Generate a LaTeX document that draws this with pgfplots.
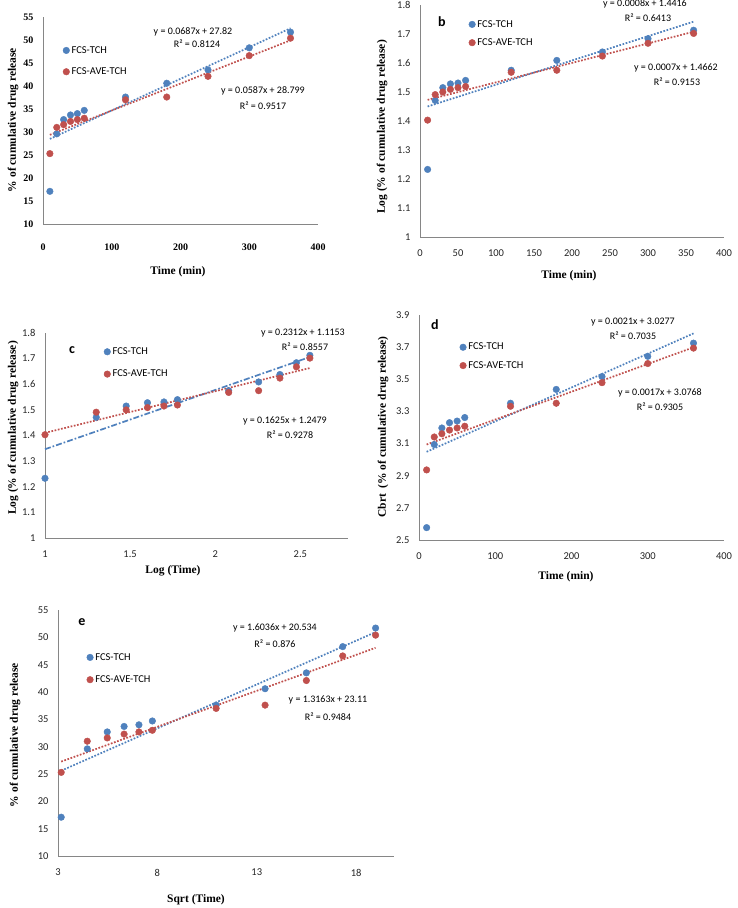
\documentclass[border=0pt]{standalone}
\usepackage{pgfplots}
\pgfplotsset{compat=1.18}
\usepackage{fontspec}
\setmainfont{Liberation Serif}
\newfontfamily\calfont{Carlito}
\definecolor{xblue}{HTML}{4F81BD}
\definecolor{xred}{HTML}{C0504D}
\definecolor{axgray}{HTML}{868686}
\pgfplotsset{
  base/.style={
    scale only axis, anchor=south west, clip=false,
    axis lines=left, axis line style={-, draw=axgray, line width=0.9pt},
    major tick length=0pt, enlargelimits=false,
    /pgf/number format/assume math mode=true,
    tick label style={font=\calfont\fontsize{10.5}{12}\selectfont, text=black!85},
    xticklabel style={yshift=-9.5pt},
    yticklabel style={xshift=-6pt},
    legend image code/.code={\draw[#1] plot coordinates {(0.12cm,0cm)};},
    legend style={draw=none, fill=none, inner sep=0pt, anchor=west,
      font=\calfont\fontsize{10.5}{12}\selectfont, cells={anchor=west}},
  },
  sb/.style={only marks, mark=*, mark size=3.3pt, mark options={draw=xblue, fill=xblue}},
  sr/.style={only marks, mark=*, mark size=3.3pt, mark options={draw=xred, fill=xred}},
  tb/.style={xblue, line width=1.7pt, dash pattern=on 1.7pt off 1.6pt, forget plot, no marks},
  tr/.style={xred, line width=1.7pt, dash pattern=on 1.7pt off 1.6pt, forget plot, no marks},
}
\newcommand{\lab}{\bfseries\fontsize{11.5}{13}\selectfont}
\newcommand{\eqf}{\calfont\fontsize{10}{12}\selectfont}
\begin{document}
\begin{tikzpicture}[x=1pt,y=1pt]
\path[use as bounding box, fill=white] (0,0) rectangle (738,-908);

% ---------- panel a ----------
\begin{axis}[base, at={(43pt,-224pt)}, width=275pt, height=207pt,
  xmin=0, xmax=400, ymin=10, ymax=55, xtick={0,100,...,400}, ytick={10,15,...,55},
  tick label style={font=\bfseries\fontsize{10}{12}\selectfont, text=black},
  xticklabel style={yshift=-7pt},
  legend style={at={(0.072,0.787)}, row sep=9pt}]
\addplot[sb] table {
10 17.1
20 29.6
30 32.7
40 33.7
50 34.0
60 34.7
120 37.6
180 40.6
240 43.5
300 48.3
360 51.7
};
\addlegendentry{FCS-TCH}
\addplot[sr] table {
10 25.3
20 31.0
30 31.6
40 32.3
50 32.7
60 33.0
120 37.0
180 37.6
240 42.1
300 46.6
360 50.4
};
\addlegendentry{FCS-AVE-TCH}
\addplot[tb] coordinates {(10,28.507) (360,52.552)};
\addplot[tr] coordinates {(10,29.386) (360,49.931)};
\end{axis}
\node[rotate=90, font=\lab] at (13,-120) {\% of cumulative drug release};
\node[font=\lab] at (178,-272) {Time (min)};
\node[font=\eqf] at (193,-32) {y = 0.0687x + 27.82};
\node[font=\eqf] at (197,-44) {R² = 0.8124};
\node[font=\eqf] at (263,-91) {y = 0.0587x + 28.799};
\node[font=\eqf] at (263,-106) {R² = 0.9517};

% ---------- panel b ----------
\begin{axis}[base, at={(420pt,-237pt)}, width=304pt, height=232pt,
  xmin=0, xmax=400, ymin=1, ymax=1.8, xtick={0,50,...,400}, ytick={1,1.1,...,1.8},
  yticklabel style={/pgf/number format/.cd, fixed, precision=1},
  legend style={at={(0.160,0.877)}, row sep=6pt}]
\addplot[sb] table {
10 1.233
20 1.471
30 1.515
40 1.528
50 1.531
60 1.540
120 1.575
180 1.609
240 1.638
300 1.684
360 1.713
};
\addlegendentry{FCS-TCH}
\addplot[sr] table {
10 1.403
20 1.491
30 1.500
40 1.509
50 1.515
60 1.519
120 1.568
180 1.575
240 1.624
300 1.668
360 1.702
};
\addlegendentry{FCS-AVE-TCH}
\addplot[tb] coordinates {(10,1.4500) (360,1.7426)};
\addplot[tr] coordinates {(10,1.4729) (360,1.7078)};
\end{axis}
\node[rotate=90, font=\lab] at (382,-127) {Log (\% of cumulative drug release)};
\node[font=\lab] at (569,-276) {Time (min)};
\node[font=\calfont\bfseries\fontsize{14}{16}\selectfont] at (442,-22) {b};
\node[font=\eqf] at (645,-4) {y = 0.0008x + 1.4416};
\node[font=\eqf] at (648,-18) {R² = 0.6413};
\node[font=\eqf] at (676,-68) {y = 0.0007x + 1.4662};
\node[font=\eqf] at (677,-82) {R² = 0.9153};

% ---------- panel c ----------
\begin{axis}[base, at={(45pt,-538pt)}, width=303pt, height=205pt,
  xmin=1, xmax=2.78, ymin=1, ymax=1.8, xtick={1,1.5,2,2.5}, ytick={1,1.1,...,1.8},
  yticklabel style={/pgf/number format/.cd, fixed, precision=1},
  xticklabel style={/pgf/number format/.cd, fixed, precision=1},
  legend style={at={(0.194,0.854)}, row sep=10pt}]
\addplot[sb] table {
1.000 1.233
1.301 1.471
1.477 1.515
1.602 1.528
1.699 1.531
1.778 1.540
2.079 1.575
2.255 1.609
2.380 1.638
2.477 1.684
2.556 1.713
};
\addlegendentry{FCS-TCH}
\addplot[sr] table {
1.000 1.403
1.301 1.491
1.477 1.500
1.602 1.509
1.699 1.515
1.778 1.519
2.079 1.568
2.255 1.575
2.380 1.624
2.477 1.668
2.556 1.702
};
\addlegendentry{FCS-AVE-TCH}
\addplot[tb, dash pattern=on 6pt off 2pt on 1.7pt off 2pt] coordinates {(1,1.3465) (2.556,1.7063)};
\addplot[tr] coordinates {(1,1.4104) (2.556,1.6633)};
\end{axis}
\node[rotate=90, font=\lab] at (13,-428) {Log (\% of cumulative drug release)};
\node[font=\lab] at (173,-571) {Log (Time)};
\node[font=\calfont\bfseries\fontsize{14}{16}\selectfont] at (72,-350) {c};
\node[font=\eqf] at (303,-333) {y = 0.2312x + 1.1153};
\node[font=\eqf] at (305,-347) {R² = 0.8557};
\node[font=\eqf] at (285,-421) {y = 0.1625x + 1.2479};
\node[font=\eqf] at (290,-435) {R² = 0.9278};

% ---------- panel d ----------
\begin{axis}[base, at={(419pt,-540pt)}, width=305pt, height=225pt,
  xmin=0, xmax=400, ymin=2.5, ymax=3.9, xtick={0,100,...,400}, ytick={2.5,2.7,...,3.9},
  yticklabel style={/pgf/number format/.cd, fixed, precision=1},
  legend style={at={(0.133,0.816)}, row sep=6pt}]
\addplot[sb] table {
10 2.577
20 3.094
30 3.197
40 3.230
50 3.240
60 3.262
120 3.351
180 3.437
240 3.517
300 3.643
360 3.725
};
\addlegendentry{FCS-TCH}
\addplot[sr] table {
10 2.936
20 3.141
30 3.161
40 3.184
50 3.197
60 3.208
120 3.332
180 3.351
240 3.479
300 3.598
360 3.694
};
\addlegendentry{FCS-AVE-TCH}
\addplot[tb] coordinates {(10,3.0488) (360,3.7855)};
\addplot[tr] coordinates {(10,3.0941) (360,3.6989)};
\end{axis}
\node[rotate=90, font=\lab] at (383,-427) {Cbrt~ (\% of cumulative drug release)};
\node[font=\lab] at (566,-577) {Time (min)};
\node[font=\calfont\bfseries\fontsize{14}{16}\selectfont] at (435,-325) {d};
\node[font=\eqf] at (633,-322) {y = 0.0021x + 3.0277};
\node[font=\eqf] at (633,-336) {R² = 0.7035};
\node[font=\eqf] at (660,-393) {y = 0.0017x + 3.0768};
\node[font=\eqf] at (660,-407) {R² = 0.9305};

% ---------- panel e ----------
\begin{axis}[base, at={(58pt,-856pt)}, width=336pt, height=246pt,
  xmin=3, xmax=19.9, ymin=10, ymax=55, xtick={3,8,13,18}, ytick={10,15,...,55},
  legend style={at={(0.085,0.762)}, row sep=10pt}]
\addplot[sb] table {
3.162 17.1
4.472 29.6
5.477 32.7
6.325 33.7
7.071 34.0
7.746 34.7
10.954 37.6
13.416 40.6
15.492 43.5
17.321 48.3
18.974 51.7
};
\addlegendentry{FCS-TCH}
\addplot[sr] table {
3.162 25.3
4.472 31.0
5.477 31.6
6.325 32.3
7.071 32.7
7.746 33.0
10.954 37.0
13.416 37.6
15.492 42.1
17.321 46.6
18.974 50.4
};
\addlegendentry{FCS-AVE-TCH}
\addplot[tb] coordinates {(3.162,25.605) (18.974,50.960)};
\addplot[tr] coordinates {(3.162,27.272) (18.974,48.085)};
\end{axis}
\node[rotate=90, font=\lab] at (15,-735) {\% of cumulative drug release};
\node[font=\lab] at (196,-900) {Sqrt (Time)};
\node[font=\calfont\bfseries\fontsize{14}{16}\selectfont] at (82,-622) {e};
\node[font=\eqf] at (275,-628) {y = 1.6036x + 20.534};
\node[font=\eqf] at (275,-644) {R² = 0.876};
\node[font=\eqf] at (328,-700) {y = 1.3163x + 23.11};
\node[font=\eqf] at (328,-717) {R² = 0.9484};
\end{tikzpicture}
\end{document}
